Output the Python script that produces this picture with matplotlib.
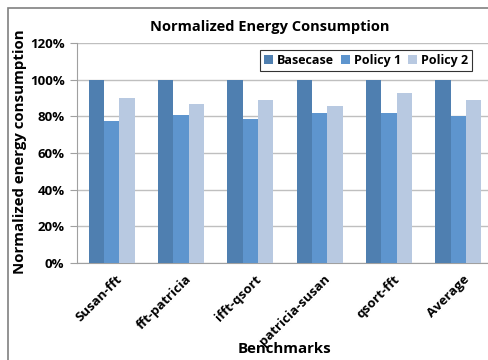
import numpy as np
import matplotlib.pyplot as plt
import matplotlib.transforms as mtransforms
from matplotlib.patches import Rectangle
from matplotlib.ticker import FuncFormatter

# Benchmarks and normalized energy (fraction of basecase)
benchmarks = ['Susan-fft', 'fft-patricia', 'ifft-qsort', 'patricia-susan', 'qsort-fft', 'Average']
basecase = [1.00, 1.00, 1.00, 1.00, 1.00, 1.00]
policy1 = [0.775, 0.807, 0.785, 0.816, 0.816, 0.802]
policy2 = [0.898, 0.867, 0.887, 0.858, 0.929, 0.887]

colors = ['#4F7FB0', '#5E95CE', '#B8C9E1']

plt.rcParams['font.family'] = ['Open Sans', 'DejaVu Sans']
plt.rcParams['font.weight'] = 'bold'

fig = plt.figure(figsize=(4.89, 3.6), dpi=100)
ax = fig.add_axes([77 / 489, 1 - 263 / 360, (493 - 77) / 489, 220 / 360])

# outer chart frame (cropped on right/bottom)
fig.patches.append(Rectangle((8 / 489, -0.1), 1.2, 1 - 8 / 360 + 0.1,
                             transform=fig.transFigure, fill=False,
                             edgecolor='#808080', linewidth=1.2))

x = np.arange(len(benchmarks))
w = 0.22
ax.bar(x - w, basecase, w, color=colors[0], label='Basecase', zorder=3)
ax.bar(x, policy1, w, color=colors[1], label='Policy 1', zorder=3)
ax.bar(x + w, policy2, w, color=colors[2], label='Policy 2', zorder=3)

ax.set_xlim(-0.5, len(benchmarks) - 0.5)
ax.set_ylim(0, 1.2)
ax.set_yticks(np.arange(0, 1.21, 0.2))
ax.yaxis.set_major_formatter(FuncFormatter(lambda v, p: f'{v * 100:.0f}%'))
ax.grid(axis='y', color='#BFBFBF', linewidth=1, zorder=0)

for s in ['top', 'right']:
    ax.spines[s].set_visible(False)
ax.spines['left'].set_color('#A0A0A0')
ax.spines['bottom'].set_color('#A0A0A0')
ax.tick_params(axis='y', length=5, color='#A0A0A0', labelsize=9.5, pad=4)
ax.tick_params(axis='x', length=0, labelsize=9.5, pad=7)

ax.set_xticks(x)
ax.set_xticklabels(benchmarks, rotation=45, ha='right', rotation_mode='anchor')
shift = mtransforms.ScaledTranslation(4 / 100, 0, fig.dpi_scale_trans)
for lbl in ax.get_xticklabels():
    lbl.set_transform(lbl.get_transform() + shift)

fig.text(270 / 489, 1 - 27 / 360, 'Normalized Energy Consumption',
         ha='center', va='center', fontsize=10.5, fontweight='bold')
fig.text(20 / 489, 1 - 152 / 360, 'Normalized energy consumption',
         ha='center', va='center', rotation=90, fontsize=10.8, fontweight='bold')
fig.text(285 / 489, 1 - 349 / 360, 'Benchmarks',
         ha='center', va='center', fontsize=10.8, fontweight='bold')

leg = ax.legend(loc='upper right', bbox_to_anchor=(478 / 489, 1 - 44 / 360),
                bbox_transform=fig.transFigure, ncol=3, fontsize=9,
                frameon=True, fancybox=False, handlelength=0.7, handleheight=0.7,
                handletextpad=0.3, columnspacing=0.6, borderpad=0.3)
leg.get_frame().set_edgecolor('black')
leg.get_frame().set_linewidth(0.8)

fig.savefig('out.png', dpi=100)
